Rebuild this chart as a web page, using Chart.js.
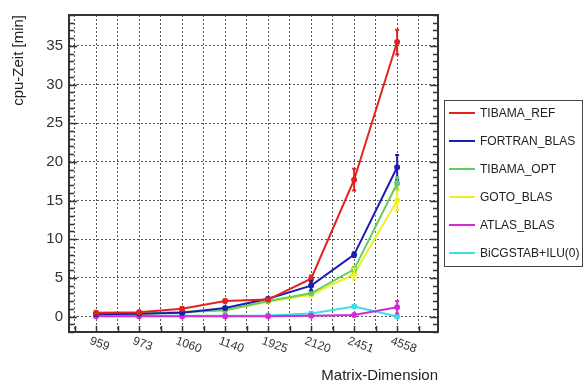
<!DOCTYPE html>
<html>
<head>
<meta charset="utf-8">
<script src="https://cdn.jsdelivr.net/npm/chart.js@4/dist/chart.umd.min.js"></script>
<style>
  html, body { margin: 0; padding: 0; background: #fff; }
  #wrap { width: 584px; height: 387px; }
</style>
</head>
<body>
<div id="wrap"><canvas id="chart"></canvas></div>
<script>
// matrix dimensions (x categories)
const dimensions = ['959', '973', '1060', '1140', '1925', '2120', '2451', '4558'];

// cpu time in minutes
const tibamaRef   = [0.5, 0.55, 1.0, 2.0, 2.2, 4.9, 17.7, 35.5];
const fortranBlas = [0.3, 0.35, 0.5, 1.1, 2.3, 4.0, 8.0, 19.3];
const tibamaOpt   = [0.3, 0.35, 0.6, 0.8, 2.0, 3.0, 6.1, 17.2];
const gotoBlas    = [0.3, 0.35, 0.6, 0.8, 1.9, 2.8, 5.5, 15.0];
const atlasBlas   = [0.05, 0.05, 0.05, 0.05, 0.05, 0.1, 0.2, 1.2];
const bicgstab    = [0.1, 0.1, 0.1, 0.1, 0.15, 0.4, 1.3, 0.0];

// error bar half widths
const tibamaRefErr   = [0.2, 0.2, 0.2, 0.2, 0.2, 0.4, 1.4, 1.6];
const fortranBlasErr = [0, 0, 0, 0, 0, 0.6, 0.3, 1.6];
const tibamaOptErr   = [0, 0, 0, 0, 0, 0, 0.3, 0.8];
const gotoBlasErr    = [0, 0, 0, 0, 0, 0, 0.7, 1.3];
const atlasBlasErr   = [0, 0, 0, 0, 0, 0, 0, 0.8];
const bicgstabErr    = [0, 0, 0, 0, 0, 0, 0.2, 0];

const yTicks = [0, 5, 10, 15, 20, 25, 30, 35];

const toPoints = arr => arr.map((v, i) => ({ x: i, y: v }));

const makeSet = (label, data, err, color) => ({
  label,
  data: toPoints(data),
  err,
  borderColor: color,
  backgroundColor: color,
  borderWidth: 2,
  pointRadius: 2,
  pointHoverRadius: 2,
  tension: 0,
});

const frameDecor = {
  id: 'frameDecor',
  afterDatasetsDraw(chart) {
    const ctx = chart.ctx;
    const { x, y } = chart.scales;
    // error bars
    chart.data.datasets.forEach(ds => {
      ctx.save();
      ctx.strokeStyle = ds.borderColor;
      ctx.lineWidth = 2;
      ds.data.forEach((p, i) => {
        const e = ds.err[i];
        if (!e) return;
        const px = x.getPixelForValue(p.x);
        const y1 = y.getPixelForValue(p.y - e);
        const y2 = y.getPixelForValue(p.y + e);
        ctx.beginPath();
        ctx.moveTo(px, y1); ctx.lineTo(px, y2);
        ctx.moveTo(px - 2, y1); ctx.lineTo(px + 2, y1);
        ctx.moveTo(px - 2, y2); ctx.lineTo(px + 2, y2);
        ctx.stroke();
      });
      ctx.restore();
    });
  },
  afterDraw(chart) {
    const ctx = chart.ctx;
    const { left, right, top, bottom } = chart.chartArea;
    const { x, y } = chart.scales;
    ctx.save();
    ctx.strokeStyle = '#333';
    ctx.lineWidth = 2;
    ctx.strokeRect(left, top, right - left, bottom - top);

    // minor ticks on left and right axis
    ctx.lineWidth = 1.5;
    ctx.beginPath();
    for (let v = Math.ceil(y.min); v <= y.max; v++) {
      const py = Math.round(y.getPixelForValue(v)) + 0.5;
      const len = v % 5 === 0 ? 8 : 5;
      ctx.moveTo(left, py); ctx.lineTo(left + len, py);
      ctx.moveTo(right, py); ctx.lineTo(right - len, py);
    }
    // bottom ticks at half steps
    for (let v = -0.5; v <= x.max; v += 0.5) {
      const px = Math.round(x.getPixelForValue(v)) + 0.5;
      ctx.moveTo(px, bottom); ctx.lineTo(px, bottom - 6);
    }
    ctx.stroke();

    // rotated category labels
    ctx.fillStyle = '#333';
    ctx.font = '12px "Liberation Sans", Arial, sans-serif';
    ctx.textAlign = 'left';
    ctx.textBaseline = 'top';
    dimensions.forEach((lab, i) => {
      const px = x.getPixelForValue(i);
      ctx.save();
      ctx.translate(px - 4, bottom + 3);
      ctx.rotate(20 * Math.PI / 180);
      ctx.fillText(lab, 0, 0);
      ctx.restore();
    });

    // legend box
    const lx = 444, ly = 100, lw = 138, lh = 166;
    ctx.strokeStyle = '#444';
    ctx.lineWidth = 1;
    ctx.strokeRect(lx + 0.5, ly + 0.5, lw, lh);
    ctx.font = '12px "Liberation Sans", Arial, sans-serif';
    ctx.textBaseline = 'middle';
    chart.data.datasets.forEach((ds, i) => {
      const cy = ly + 13 + i * 28;
      ctx.strokeStyle = ds.borderColor;
      ctx.lineWidth = 2;
      ctx.beginPath();
      ctx.moveTo(lx + 5, cy); ctx.lineTo(lx + 31, cy);
      ctx.stroke();
      ctx.fillStyle = '#222';
      ctx.fillText(ds.label, lx + 36, cy + 1);
    });
    ctx.restore();
  }
};

new Chart(document.getElementById('chart'), {
  type: 'line',
  data: {
    datasets: [
      makeSet('TIBAMA_REF', tibamaRef, tibamaRefErr, '#e3221e'),
      makeSet('FORTRAN_BLAS', fortranBlas, fortranBlasErr, '#1c1db3'),
      makeSet('TIBAMA_OPT', tibamaOpt, tibamaOptErr, '#5fcf5f'),
      makeSet('GOTO_BLAS', gotoBlas, gotoBlasErr, '#f0f020'),
      makeSet('ATLAS_BLAS', atlasBlas, atlasBlasErr, '#d52ad5'),
      makeSet('BiCGSTAB+ILU(0)', bicgstab, bicgstabErr, '#3cdfe6'),
    ],
  },
  options: {
    responsive: true,
    maintainAspectRatio: false,
    devicePixelRatio: 1,
    animation: false,
    layout: { padding: { top: 11, right: 146, left: 0, bottom: 0 } },
    plugins: {
      legend: { display: false },
      tooltip: { enabled: false },
    },
    scales: {
      x: {
        type: 'linear',
        min: -0.63,
        max: 7.95,
        afterBuildTicks: scale => {
          const t = [];
          for (let v = -0.5; v <= 7.5; v += 0.5) t.push({ value: v });
          scale.ticks = t;
        },
        afterFit: scale => { scale.height = 55; },
        grid: { color: '#555', lineWidth: 1, drawTicks: false },
        border: { display: false, dash: [2, 2] },
        ticks: { display: false },
        title: {
          display: true,
          text: 'Matrix-Dimension',
          align: 'end',
          color: '#222',
          font: { family: '"Liberation Sans", Arial, sans-serif', size: 15 },
          padding: { top: 0, bottom: 2 },
        },
      },
      y: {
        min: -2,
        max: 39,
        afterBuildTicks: scale => {
          scale.ticks = yTicks.map(v => ({ value: v }));
        },
        afterFit: scale => { scale.width = 69; },
        grid: { color: '#555', lineWidth: 1, drawTicks: false },
        border: { display: false, dash: [2, 2] },
        ticks: {
          color: '#333',
          padding: 6,
          font: { family: '"Liberation Sans", Arial, sans-serif', size: 15 },
        },
        title: {
          display: true,
          text: 'cpu-Zeit [min]',
          align: 'end',
          color: '#222',
          font: { family: '"Liberation Sans", Arial, sans-serif', size: 15 },
          padding: { top: 10, bottom: 0 },
        },
      },
    },
  },
  plugins: [frameDecor],
});
</script>
</body>
</html>
